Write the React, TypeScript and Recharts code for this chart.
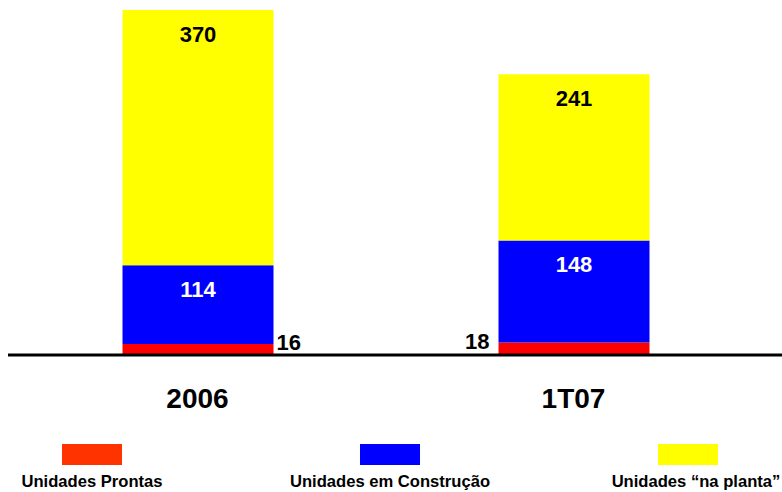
import React from 'react';
import { BarChart, Bar, XAxis, YAxis, LabelList } from 'recharts';

const categories = ['2006', '1T07'];
const prontas = [16, 18];
const construcao = [114, 148];
const naPlanta = [370, 241];
const seriesNames = ['Unidades Prontas', 'Unidades em Construção', 'Unidades “na planta”'];
const barColors = ['#FF0000', '#0000FF', '#FFFF00'];
const legendColors = ['#FF3300', '#0000FF', '#FFFF00'];

const FONT = '"Liberation Sans", Arial, sans-serif';

const data = categories.map((name, i) => ({
  name,
  prontas: prontas[i],
  construcao: construcao[i],
  planta: naPlanta[i],
}));

const CategoryTick = (props: any) => {
  const { x, y, payload } = props;
  return (
    <text x={x} y={y + 53} textAnchor="middle" fontFamily={FONT} fontWeight="bold" fontSize={28} fill="#000">
      {payload.value}
    </text>
  );
};

// small red segment: label sits outside the bar
const ProntasLabel = (props: any) => {
  const { x, y, width, value, index } = props;
  const right = index === 0;
  return (
    <text
      x={right ? x + width + 3 : x - 9}
      y={y + 6}
      textAnchor={right ? 'start' : 'end'}
      fontFamily={FONT}
      fontWeight="bold"
      fontSize={22}
      fill="#000"
    >
      {value}
    </text>
  );
};

const topLabel = (color: string) => (props: any) => {
  const { x, y, width, value } = props;
  return (
    <text x={x + width / 2} y={y + 32} textAnchor="middle" fontFamily={FONT} fontWeight="bold" fontSize={22} fill={color}>
      {value}
    </text>
  );
};

const swatchCenters = [92, 390, 688];
const textCenters = [92, 390, 696];

export default function App() {
  return (
    <div style={{ position: 'absolute', left: 0, top: 0, width: 782, height: 492, background: '#fff', overflow: 'hidden' }}>
      <BarChart width={782} height={492} data={data} margin={{ top: 10, right: 0, left: 8, bottom: 0 }} barSize={151}>
        <XAxis
          dataKey="name"
          height={137}
          axisLine={{ stroke: '#000', strokeWidth: 3 }}
          tickLine={false}
          tickSize={0}
          tickMargin={0}
          padding={{ left: 1.5, right: 20.5 }}
          tick={<CategoryTick />}
          interval={0}
        />
        <YAxis hide domain={[0, 500]} />
        <Bar dataKey="prontas" stackId="a" fill={barColors[0]} isAnimationActive={false}>
          <LabelList dataKey="prontas" content={<ProntasLabel />} />
        </Bar>
        <Bar dataKey="construcao" stackId="a" fill={barColors[1]} isAnimationActive={false}>
          <LabelList dataKey="construcao" content={topLabel('#fff')} />
        </Bar>
        <Bar dataKey="planta" stackId="a" fill={barColors[2]} isAnimationActive={false}>
          <LabelList dataKey="planta" content={topLabel('#000')} />
        </Bar>
      </BarChart>
      <svg width={782} height={492} style={{ position: 'absolute', left: 0, top: 0, pointerEvents: 'none' }}>
        {seriesNames.map((name, i) => (
          <g key={name}>
            <rect x={swatchCenters[i] - 30} y={444} width={60} height={21} fill={legendColors[i]} />
            <text x={textCenters[i]} y={487} textAnchor="middle" fontFamily={FONT} fontWeight="bold" fontSize={16.6} fill="#000">
              {name}
            </text>
          </g>
        ))}
      </svg>
    </div>
  );
}
